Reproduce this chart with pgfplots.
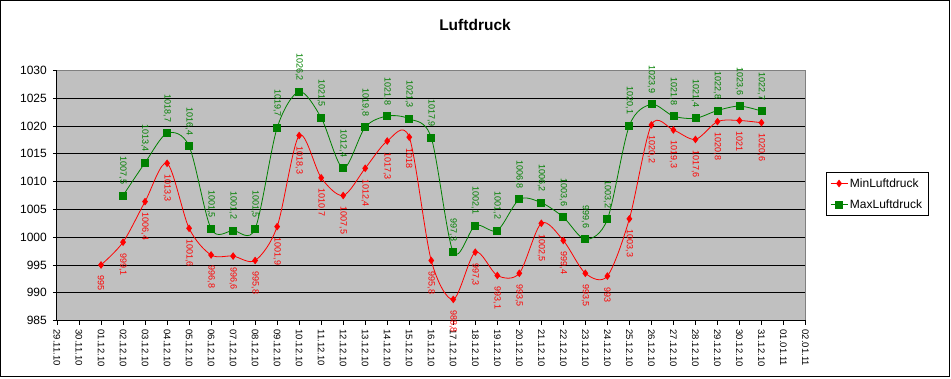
\documentclass[border=0pt]{standalone}
\usepackage{graphicx}
\usepackage{pgfplots}
\pgfplotsset{compat=1.18}
\usepackage{fontspec}
\setmainfont{Liberation Sans}
\definecolor{plotgray}{RGB}{192,192,192}
\definecolor{exgreen}{RGB}{0,128,0}
\definecolor{bordergray}{RGB}{128,128,128}
\begin{document}
\begin{tikzpicture}[x=1pt,y=1pt]
\path (0,0) rectangle (951,-378);
\draw[line width=1pt] (0.5,-0.5) rectangle (949.5,-376.5);
\node[font=\fontsize{15.5}{16}\selectfont\bfseries] at (475,-25) {Luftdruck};
\begin{axis}[
  at={(57pt,-320.5pt)}, anchor=south west,
  scale only axis, width=748.5pt, height=250pt,
  xmin=0, xmax=34, ymin=985, ymax=1030,
  ytick={985,990,...,1030},
  xtick={0,...,34},
  xticklabels={29.11.10,30.11.10,01.12.10,02.12.10,03.12.10,04.12.10,05.12.10,06.12.10,07.12.10,08.12.10,09.12.10,10.12.10,11.12.10,12.12.10,13.12.10,14.12.10,15.12.10,16.12.10,17.12.10,18.12.10,19.12.10,20.12.10,21.12.10,22.12.10,23.12.10,24.12.10,25.12.10,26.12.10,27.12.10,28.12.10,29.12.10,30.12.10,31.12.10,01.01.11,02.01.11},
  xticklabel style={rotate=-90, anchor=west, font=\fontsize{9.5}{10}\selectfont, inner sep=0pt},
  xticklabel shift=5pt,
  yticklabel style={font=\fontsize{12}{12}\selectfont, inner sep=0pt},
  yticklabel shift=6pt,
  /pgf/number format/.cd, use comma, 1000 sep={}, assume math mode=true,
  /pgfplots/.cd,
  tick align=outside, major tick length=4pt,
  tick style={black, line width=0.8pt},
  axis line style={draw=none},
  axis background/.style={fill=plotgray},
  ymajorgrids, grid style={black, line width=0.9pt},
  xtick pos=bottom, ytick pos=left,
  legend style={at={(1.027,0.594)}, anchor=north west, draw=black, line width=0.8pt,
    font=\fontsize{12}{13}\selectfont, inner sep=4pt, row sep=7pt, cells={anchor=west}},
  legend cell align=left,
  clip=false,
]
\draw[bordergray, line width=1pt] (rel axis cs:0,1) -- (rel axis cs:1,1) -- (rel axis cs:1,0);
\draw[black, line width=1pt] (rel axis cs:0,1) -- (rel axis cs:0,0) -- (rel axis cs:1,0);
\addplot[red, line width=0.8pt, smooth, tension=0.5, mark=diamond*, mark size=3.2pt,
  mark options={solid, fill=red, draw=red},
  nodes near coords={\rotatebox{-90}{\pgfmathprintnumber{\pgfplotspointmeta}}},
  nodes near coords align={center},
  every node near coord/.append style={anchor=north, red, font=\fontsize{9}{9}\selectfont, inner sep=0pt, outer sep=0pt, yshift=-11pt}]
coordinates {
(2,995) (3,999.1) (4,1006.4) (5,1013.3) (6,1001.6) (7,996.8) (8,996.6) (9,995.8) (10,1001.9) (11,1018.3) (12,1010.7) (13,1007.5) (14,1012.4) (15,1017.3) (16,1018) (17,995.8) (18,988.8) (19,997.3) (20,993.1) (21,993.5) (22,1002.5) (23,999.4) (24,993.5) (25,993) (26,1003.3) (27,1020.2) (28,1019.3) (29,1017.6) (30,1020.8) (31,1021) (32,1020.6)
};
\addlegendentry{MinLuftdruck}
\addplot[exgreen, line width=0.8pt, smooth, tension=0.5, mark=square*, mark size=3.5pt,
  mark options={solid, fill=exgreen, draw=exgreen},
  nodes near coords={\rotatebox{-90}{\pgfmathprintnumber{\pgfplotspointmeta}}},
  nodes near coords align={center},
  every node near coord/.append style={anchor=south, exgreen, font=\fontsize{9}{9}\selectfont, inner sep=0pt, outer sep=0pt, yshift=11pt}]
coordinates {
(3,1007.5) (4,1013.4) (5,1018.7) (6,1016.4) (7,1001.5) (8,1001.2) (9,1001.5) (10,1019.7) (11,1026.2) (12,1021.5) (13,1012.4) (14,1019.8) (15,1021.8) (16,1021.3) (17,1017.9) (18,997.3) (19,1002.1) (20,1001.2) (21,1006.8) (22,1006.2) (23,1003.6) (24,999.6) (25,1003.2) (26,1020.1) (27,1023.9) (28,1021.8) (29,1021.4) (30,1022.8) (31,1023.6) (32,1022.7)
};
\addlegendentry{MaxLuftdruck}
\end{axis}
\end{tikzpicture}
\end{document}
